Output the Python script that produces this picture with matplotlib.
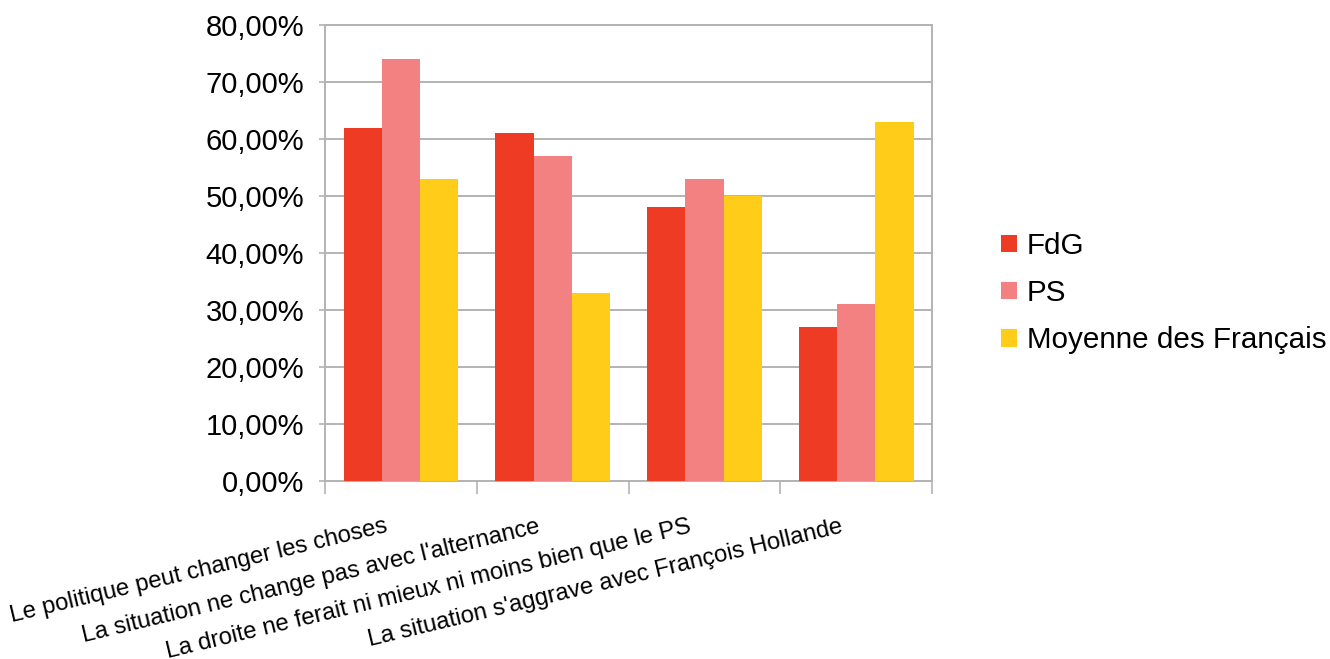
import numpy as np
import matplotlib.pyplot as plt
from matplotlib.ticker import FuncFormatter
from matplotlib.transforms import ScaledTranslation

plt.rcParams['font.family'] = ['Liberation Sans', 'DejaVu Sans']

categories = ["Le politique peut changer les choses",
              "La situation ne change pas avec l'alternance",
              "La droite ne ferait ni mieux ni moins bien que le PS",
              "La situation s'aggrave avec François Hollande"]
series = ["FdG", "PS", "Moyenne des Français"]
fdg = [62, 61, 48, 27]
ps = [74, 57, 53, 31]
moyenne = [53, 33, 50, 63]
colors = ["#EE3B24", "#F38181", "#FFCC1A"]

fig = plt.figure(figsize=(13.3, 6.59), dpi=100)
ax = fig.add_axes([0.2444, 0.2701, 0.4564, 0.6919])

x = np.arange(len(categories))
w = 0.252
for i, (vals, name) in enumerate(zip([fdg, ps, moyenne], series)):
    ax.bar(x + (i - 1) * w, vals, w, color=colors[i], label=name, zorder=3)

ax.set_xlim(-0.5, len(categories) - 0.5)
ax.set_ylim(0, 80)
ax.set_yticks(np.arange(0, 81, 10))
ax.yaxis.set_major_formatter(FuncFormatter(lambda v, p: f"{v:.2f}".replace(".", ",") + "%"))
ax.grid(axis='y', color='#b3b3b3', linewidth=1.4, zorder=0)
ax.tick_params(axis='y', labelsize=21, length=4, width=1.2, color='#b3b3b3', pad=11)

# category labels: right end sits left of the category centre, below the axis
ax.set_xticks(x)
ax.set_xticklabels(categories, rotation=13.5, ha='right', va='baseline',
                   rotation_mode='anchor', fontsize=17.2)
ax.tick_params(axis='x', which='major', length=0, pad=0)
offset = ScaledTranslation(-0.12, -0.51, fig.dpi_scale_trans)
for lab in ax.get_xticklabels():
    lab.set_transform(ax.get_xaxis_transform() + offset)
ax.set_xticks(np.arange(-0.5, len(categories)), minor=True)
ax.tick_params(axis='x', which='minor', length=9, width=1.2, color='#b3b3b3')

for s in ['left', 'right', 'bottom', 'top']:
    ax.spines[s].set_color('#b3b3b3')
    ax.spines[s].set_linewidth(1.4)

ax.legend(loc='center left', bbox_to_anchor=(1.07, 0.412), frameon=False, fontsize=21.3,
          handlelength=0.52, handleheight=0.52, handletextpad=0.35, labelspacing=0.65)

fig.savefig("out.png")
